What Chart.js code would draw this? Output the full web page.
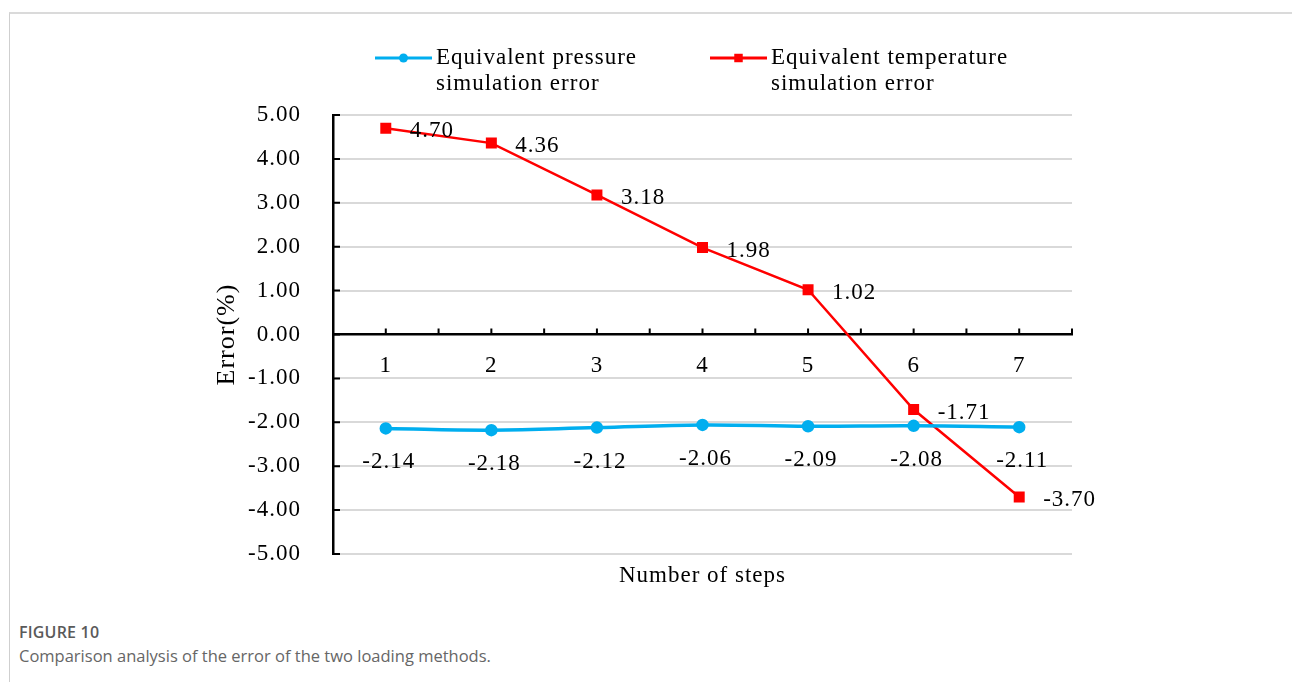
<!DOCTYPE html>
<html>
<head>
<meta charset="utf-8">
<script src="https://cdn.jsdelivr.net/npm/chart.js@4.4.0/dist/chart.umd.min.js"></script>
<style>
  html, body { margin: 0; padding: 0; background: #ffffff; }
  body { width: 1292px; height: 682px; position: relative; overflow: hidden; }
  #frame { position: absolute; left: 9px; top: 12px; right: 0; bottom: 0;
           border-top: 2px solid #dadada; border-left: 1px solid #cfcfcf; }
  #wrap { position: absolute; left: 0; top: 0; width: 1292px; height: 600px; }
  #cap { position: absolute; left: 19px; top: 620px; font-family: "Open Sans", sans-serif; color: #5a5a5a; }
  #cap .fig { font-size: 16px; font-weight: 600; line-height: 24px; letter-spacing: 0.2px; }
  #cap .txt { font-size: 16.5px; font-weight: 400; line-height: 24px; color: #666666; }
</style>
</head>
<body>
<div id="frame"></div>
<div id="wrap"><canvas id="c" width="1292" height="600"></canvas></div>
<div id="cap">
  <div class="fig">FIGURE 10</div>
  <div class="txt">Comparison analysis of the error of the two loading methods.</div>
</div>
<script>
// ---- data ----
const categories = ['1', '2', '3', '4', '5', '6', '7'];
const pressureError = [-2.14, -2.18, -2.12, -2.06, -2.09, -2.08, -2.11];
const temperatureError = [4.70, 4.36, 3.18, 1.98, 1.02, -1.71, -3.70];
const seriesNames = [
  ['Equivalent pressure', 'simulation error'],
  ['Equivalent temperature', 'simulation error']
];
const yMin = -5;
const yMax = 5;
const yStep = 1;
const xTitle = 'Number of steps';
const yTitle = 'Error(%)';

// ---- styles ----
const SERIF = '"Liberation Serif", "Times New Roman", serif';
const FONT = { family: SERIF, size: 23 };
const YTITLE_FONT = { family: SERIF, size: 26 };
const SPACING = '1px';
const BLUE = '#00AEEF';
const RED = '#FF0000';

const spacingPlugin = {
  id: 'spacing',
  beforeDraw(chart) { chart.ctx.letterSpacing = SPACING; }
};

const axisMarks = {
  id: 'axisMarks',
  afterDatasetsDraw(chart) {
    const { ctx } = chart;
    const xs = chart.scales.x, ys = chart.scales.y;
    const y0 = ys.getPixelForValue(0);
    ctx.save();
    ctx.strokeStyle = '#000';
    ctx.lineWidth = 2;
    ctx.beginPath();
    for (let v = -0.5; v <= categories.length - 0.5 + 1e-9; v += 0.5) {
      const px = xs.getPixelForValue(v);
      ctx.moveTo(px, y0);
      ctx.lineTo(px, y0 - 6);
    }
    ys.ticks.forEach(t => {
      const py = ys.getPixelForValue(t.value);
      ctx.moveTo(ys.right, py);
      ctx.lineTo(ys.right + 7, py);
    });
    ctx.stroke();
    ctx.restore();
  }
};

const valueLabels = {
  id: 'valueLabels',
  afterDatasetsDraw(chart) {
    const { ctx } = chart;
    ctx.save();
    ctx.letterSpacing = SPACING;
    ctx.font = `${FONT.size}px ${SERIF}`;
    ctx.fillStyle = '#000';
    ctx.textBaseline = 'middle';
    chart.data.datasets.forEach((ds, di) => {
      const meta = chart.getDatasetMeta(di);
      meta.data.forEach((pt, i) => {
        const txt = ds.data[i].toFixed(2);
        if (di === 0) {
          ctx.textAlign = 'center';
          ctx.fillText(txt, pt.x + 3, pt.y + 34);
        } else {
          ctx.textAlign = 'left';
          ctx.fillText(txt, pt.x + 24, pt.y + 3);
        }
      });
    });
    ctx.restore();
  }
};

const legendBox = {
  id: 'legendBox',
  afterDraw(chart) {
    const { ctx } = chart;
    const starts = [375, 710];
    const segLen = 57;
    const yTop = 58, lineH = 26;
    ctx.save();
    ctx.letterSpacing = SPACING;
    chart.data.datasets.forEach((ds, di) => {
      const x0 = starts[di];
      ctx.strokeStyle = ds.borderColor;
      ctx.lineWidth = 3;
      ctx.beginPath();
      ctx.moveTo(x0, yTop);
      ctx.lineTo(x0 + segLen, yTop);
      ctx.stroke();
      ctx.fillStyle = ds.pointBackgroundColor;
      Chart.helpers.drawPoint(ctx, {
        pointStyle: ds.pointStyle, radius: ds.pointRadius, borderWidth: 0, rotation: 0
      }, x0 + segLen / 2, yTop);
      ctx.fillStyle = '#000';
      ctx.font = `${FONT.size}px ${SERIF}`;
      ctx.textAlign = 'left';
      ctx.textBaseline = 'middle';
      ds.label.forEach((line, li) => ctx.fillText(line, x0 + segLen + 4, yTop + li * lineH));
    });
    ctx.restore();
  }
};

new Chart(document.getElementById('c'), {
  type: 'line',
  data: {
    labels: categories,
    datasets: [
      {
        label: seriesNames[0],
        data: pressureError,
        borderColor: BLUE,
        backgroundColor: BLUE,
        pointBackgroundColor: BLUE,
        pointBorderColor: BLUE,
        pointStyle: 'circle',
        pointRadius: 4.5,
        borderWidth: 3.5,
        tension: 0.4,
        fill: false
      },
      {
        label: seriesNames[1],
        data: temperatureError,
        borderColor: RED,
        backgroundColor: RED,
        pointBackgroundColor: RED,
        pointBorderColor: RED,
        pointStyle: 'rect',
        pointRadius: 6,
        borderWidth: 2.5,
        tension: 0,
        fill: false
      }
    ]
  },
  options: {
    responsive: false,
    animation: false,
    layout: { padding: { left: 205, top: 115, right: 220, bottom: 0 } },
    plugins: { legend: { display: false }, tooltip: { enabled: false } },
    scales: {
      x: {
        type: 'category',
        position: { y: 0 },
        offset: true,
        grid: { display: false, drawTicks: false },
        border: { display: true, color: '#000', width: 2.5 },
        ticks: { color: '#000', font: FONT, padding: 18, maxRotation: 0, autoSkip: false }
      },
      x2: {
        type: 'category',
        position: 'bottom',
        offset: true,
        afterFit(s) { s.height = 46; },
        grid: { display: false, drawTicks: false },
        border: { display: false },
        ticks: { display: false },
        title: { display: true, text: xTitle, color: '#000', font: FONT, padding: { top: 0, bottom: 10 } }
      },
      y: {
        min: yMin,
        max: yMax,
        afterFit(s) { s.width = 128; },
        ticks: { stepSize: yStep, color: '#000', font: FONT, padding: 32, callback: v => Number(v).toFixed(2) },
        grid: {
          color: c => (c.tick && c.tick.value === 0) ? 'rgba(0,0,0,0)' : '#d9d9d9',
          lineWidth: 2,
          drawTicks: false
        },
        border: { color: '#000', width: 2.5 },
        title: { display: true, text: yTitle, color: '#000', font: YTITLE_FONT, padding: { top: 7, bottom: 0 } }
      }
    }
  },
  plugins: [spacingPlugin, axisMarks, valueLabels, legendBox]
});
</script>
</body>
</html>
